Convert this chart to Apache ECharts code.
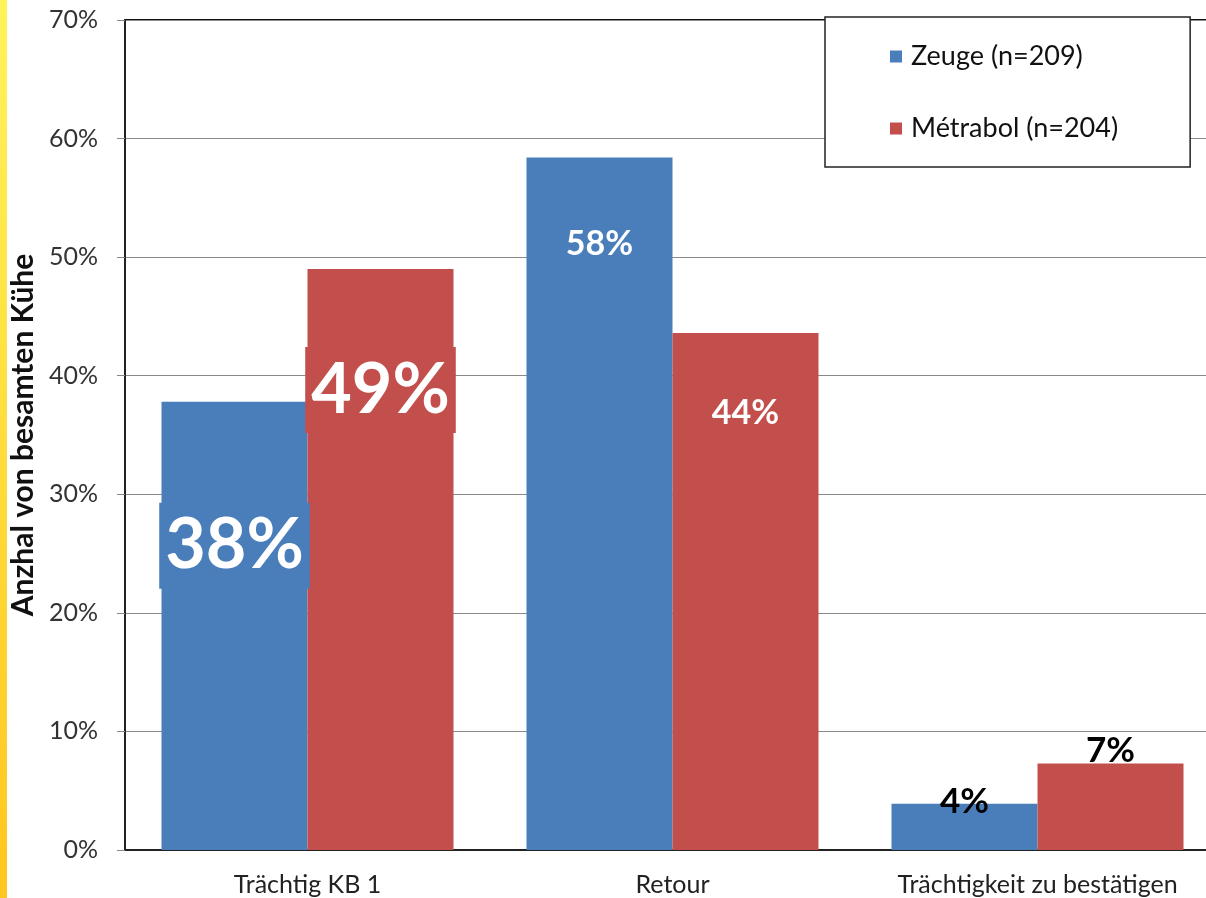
<!DOCTYPE html>
<html>
<head>
<meta charset="utf-8">
<style>
html,body{margin:0;padding:0;background:#fff;}
#chart{width:1206px;height:898px;}
</style>
<script src="https://cdn.jsdelivr.net/npm/echarts@6/dist/echarts.min.js"></script>
</head>
<body>
<div id="chart"></div>
<script>
const categories = ['Trächtig KB 1', 'Retour', 'Trächtigkeit zu bestätigen'];
const seriesNames = ['Zeuge (n=209)', 'Métrabol (n=204)'];
const zeugeValues = [37.8, 58.4, 3.9];
const metrabolValues = [49.0, 43.6, 7.3];
const zeugeLabels = ['38%', '58%', '4%'];
const metrabolLabels = ['49%', '44%', '7%'];
const yTicks = { min: 0, max: 70, interval: 10 };

const BLUE = '#4A7EBB';
const RED = '#C24F4B';
const FONT = 'Lato, "Open Sans", sans-serif';

function labelStyles(color, d) {
  return [
    { show: true, position: 'insideTop', distance: d[0], color: '#fff', fontWeight: 'bold', fontSize: 70, fontFamily: FONT,
      backgroundColor: color, padding: [8, 6, 8, 6] },
    { show: true, position: 'insideTop', distance: d[1], color: '#fff', fontWeight: 'bold', fontSize: 34, fontFamily: FONT },
    { show: true, position: 'top', distance: d[2], color: '#000', fontWeight: 'bold', fontSize: 35, fontFamily: FONT }
  ];
}
const blueLabels = labelStyles(BLUE, [101, 69, -15]);
const redLabels = labelStyles(RED, [78, 63, -5]);

function buildData(values, texts, styles) {
  return values.map((v, i) => ({
    value: v,
    label: Object.assign({}, styles[i], { formatter: texts[i] })
  }));
}

const chart = echarts.init(document.getElementById('chart'));
chart.setOption({
  backgroundColor: '#fff',
  animation: false,
  graphic: [{
    type: 'rect',
    shape: { x: 0, y: 0, width: 7, height: 898 },
    style: {
      fill: new echarts.graphic.LinearGradient(0, 0, 0, 1, [
        { offset: 0, color: '#FFF35A' },
        { offset: 1, color: '#FFC61E' }
      ])
    },
    silent: true
  }],
  grid: {
    left: 125, top: 20, right: -14, bottom: 48,
    outerBoundsMode: 'none',
    containLabel: false,
    show: true, borderColor: '#111', borderWidth: 2, backgroundColor: '#fff'
  },
  legend: {
    orient: 'vertical',
    left: 825, top: 17,
    backgroundColor: '#fff',
    borderColor: '#222', borderWidth: 1.5,
    padding: [26, 72, 25, 65],
    itemGap: 45,
    icon: 'rect', itemWidth: 12, itemHeight: 12,
    textStyle: { fontSize: 27, fontFamily: FONT, color: '#111', padding: [0, 0, 0, 4] },
    data: seriesNames
  },
  xAxis: {
    type: 'category',
    data: categories,
    axisLine: { lineStyle: { color: '#222', width: 2 } },
    axisTick: { show: false },
    axisLabel: { interval: 0, hideOverlap: false, fontSize: 25, fontFamily: FONT, color: '#222', margin: 22 }
  },
  yAxis: {
    type: 'value',
    min: yTicks.min, max: yTicks.max, interval: yTicks.interval,
    name: 'Anzhal von besamten Kühe',
    nameLocation: 'middle', nameRotate: 90, nameGap: 80,
    nameTextStyle: { fontSize: 30, fontWeight: 'bold', fontFamily: FONT, color: '#111' },
    axisLine: { show: true, lineStyle: { color: '#222', width: 2 } },
    axisTick: { show: true, length: 8, lineStyle: { color: '#888' } },
    axisLabel: { formatter: '{value}%', fontSize: 25, fontFamily: FONT, color: '#333', margin: 27 },
    splitLine: { lineStyle: { color: '#8a8a8a', width: 1.2 } }
  },
  series: [
    {
      name: seriesNames[0], type: 'bar',
      barGap: '0%', barCategoryGap: '20%',
      itemStyle: { color: BLUE },
      data: buildData(zeugeValues, zeugeLabels, blueLabels)
    },
    {
      name: seriesNames[1], type: 'bar',
      barGap: '0%', barCategoryGap: '20%',
      itemStyle: { color: RED },
      data: buildData(metrabolValues, metrabolLabels, redLabels)
    }
  ]
});
</script>
</body>
</html>
